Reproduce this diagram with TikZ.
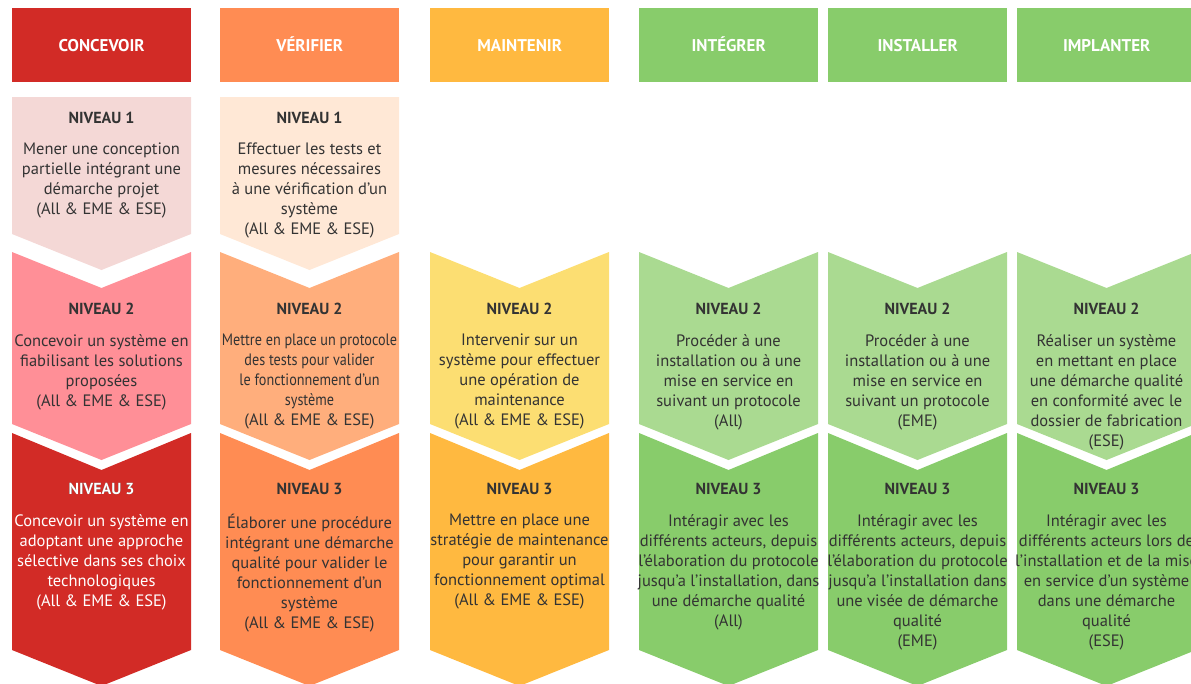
\documentclass[tikz,border=0pt]{standalone}
\usepackage{fontspec}
\setmainfont{PT Sans}
\newfontfamily\narrowfont[FakeStretch=0.86]{PT Sans}
\usetikzlibrary{positioning}
\definecolor{redC}{HTML}{D22B26}
\definecolor{redB}{HTML}{FF8F97}
\definecolor{redA}{HTML}{F4D8D6}
\definecolor{orgC}{HTML}{FF8C53}
\definecolor{orgB}{HTML}{FFAE7C}
\definecolor{orgA}{HTML}{FFE8D6}
\definecolor{yelC}{HTML}{FFB940}
\definecolor{yelB}{HTML}{FCDE72}
\definecolor{grnC}{HTML}{88CC6B}
\definecolor{grnB}{HTML}{AADA91}
\definecolor{ink}{HTML}{333333}
\tikzset{head/.style={anchor=north west, minimum width=179, minimum height=74,
    inner sep=0pt, text height=12pt, text depth=0pt, text=white,
    font=\fontsize{17}{18}\selectfont\bfseries}}
\tikzset{lvl/.style={inner sep=0pt, text=ink, font=\fontsize{16}{18}\selectfont\bfseries}}
\tikzset{desc/.style={inner sep=0pt, text=ink, align=center,
    font=\fontsize{16.5}{20}\selectfont}}

\begin{document}
\begin{tikzpicture}[x=1pt, y=-1pt]
    \useasboundingbox (0,0) rectangle (1191,683);

    \foreach \x/\c/\n/\t in {12/redC/conc/CONCEVOIR, 220/orgC/veri/VÉRIFIER,
        430/yelC/main/MAINTENIR, 639/grnC/inte/INTÉGRER, 828/grnC/inst/INSTALLER,
        1017/grnC/impl/IMPLANTER}
    \node[head, fill=\c] (\n) at (\x,8) {\t};

    \foreach \x/\c in {12/redA, 220/orgA}
    \fill[\c] (\x,97) -- ++(179,0) -- ++(0,137) -- ++(-89.5,36) -- ++(-89.5,-36) -- cycle;
    \foreach \x/\c in {12/redB, 220/orgB, 430/yelB, 639/grnB, 828/grnB, 1017/grnB}
    \fill[\c] (\x,252) -- ++(89.5,36) -- ++(89.5,-36) -- ++(0,172) -- ++(-89.5,36)
    -- ++(-89.5,-36) -- cycle;
    \foreach \x/\c in {12/redC, 220/orgC, 430/yelC, 639/grnC, 828/grnC, 1017/grnC}
    \fill[\c] (\x,433) -- ++(89.5,37) -- ++(89.5,-37) -- ++(0,217) -- ++(-89.5,36)
    -- ++(-89.5,-36) -- cycle;

    \node[lvl] (conc1) at (101.5,118) {NIVEAU 1};
    \node[lvl] (veri1) at (309.5,118) {NIVEAU 1};
    \foreach \n/\x in {conc/101.5, veri/309.5, main/519.5, inte/728.5, inst/917.5, impl/1106.5} {
        \node[lvl] (\n2) at (\x,309) {NIVEAU 2};
        \node[lvl] (\n3) at (\x,489) {NIVEAU 3};
    }
    \node[lvl, text=white] at (conc3) {NIVEAU 3};

    \node[desc, below=19pt of conc1] (conc1d) {Mener une conception\\partielle intégrant une\\démarche projet\\(All \& EME \& ESE)};
    \node[desc, below=19pt of veri1] (veri1d) {Effectuer les tests et\\mesures nécessaires\\à une vérification d’un\\système\\(All \& EME \& ESE)};

    \node[desc, below=19pt of conc2] (conc2d) {Concevoir un système en\\fiabilisant les solutions\\proposées\\(All \& EME \& ESE)};
    \node[desc, below=19pt of veri2] (veri2d) {\narrowfont Mettre en place un protocole\\\narrowfont des tests pour valider\\\narrowfont le fonctionnement d’un\\\narrowfont système\\(All \& EME \& ESE)};
    \node[desc, below=19pt of main2] (main2d) {Intervenir sur un\\système pour effectuer\\une opération de\\maintenance\\(All \& EME \& ESE)};
    \node[desc, below=19pt of inte2] (inte2d) {Procéder à une\\installation ou à une\\mise en service en\\suivant un protocole\\(All)};
    \node[desc, below=19pt of inst2] (inst2d) {Procéder à une\\installation ou à une\\mise en service en\\suivant un protocole\\(EME)};
    \node[desc, below=19pt of impl2] (impl2d) {Réaliser un système\\en mettant en place\\une démarche qualité\\en conformité avec le\\dossier de fabrication\\(ESE)};

    \node[desc, below=19pt of conc3, text=white] (conc3d) {Concevoir un système en\\adoptant une approche\\sélective dans ses choix\\technologiques\\(All \& EME \& ESE)};
    \node[desc, below=19pt of veri3] (veri3d) {Élaborer une procédure\\intégrant une démarche\\qualité pour valider le\\fonctionnement d’un\\système\\(All \& EME \& ESE)};
    \node[desc, below=19pt of main3] (main3d) {Mettre en place une\\stratégie de maintenance\\pour garantir un\\fonctionnement optimal\\(All \& EME \& ESE)};
    \node[desc, below=19pt of inte3] (inte3d) {Intéragir avec les\\différents acteurs, depuis\\l’élaboration du protocole\\jusqu’a l’installation, dans\\une démarche qualité\\(All)};
    \node[desc, below=19pt of inst3] (inst3d) {Intéragir avec les\\différents acteurs, depuis\\l’élaboration du protocole\\jusqu’a l’installation dans\\une visée de démarche\\qualité\\(EME)};
    \node[desc, below=19pt of impl3] (impl3d) {Intéragir avec les\\différents acteurs lors de\\l’installation et de la mise\\en service d’un système\\dans une démarche\\qualité\\(ESE)};
\end{tikzpicture}
\end{document}
